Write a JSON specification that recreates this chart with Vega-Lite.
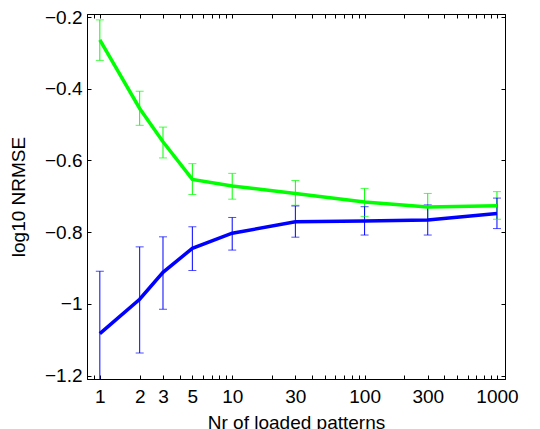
{
  "$schema": "https://vega.github.io/schema/vega-lite/v6.json",
  "autosize": "none",
  "width": 418,
  "height": 365,
  "padding": {"left": 87, "top": 14, "right": 35, "bottom": 50},
  "background": "white",
  "config": {
    "font": "Liberation Sans",
    "view": {"stroke": "black", "strokeWidth": 1},
    "axis": {
      "labelFont": "Liberation Sans",
      "titleFont": "Liberation Sans",
      "labelFontSize": 19,
      "titleFontSize": 19,
      "titleFontWeight": "normal",
      "labelColor": "black",
      "titleColor": "black",
      "domainColor": "black",
      "tickColor": "black",
      "grid": false,
      "tickSize": -4,
      "labelFlush": false,
      "labelOverlap": false
    }
  },
  "data": {
    "values": [
      {"series": "green", "x": 1, "y": -0.264, "lo": -0.321, "hi": -0.208},
      {"series": "green", "x": 2, "y": -0.455, "lo": -0.502, "hi": -0.407},
      {"series": "green", "x": 3, "y": -0.548, "lo": -0.593, "hi": -0.507},
      {"series": "green", "x": 5, "y": -0.653, "lo": -0.695, "hi": -0.609},
      {"series": "green", "x": 10, "y": -0.671, "lo": -0.708, "hi": -0.636},
      {"series": "green", "x": 30, "y": -0.692, "lo": -0.725, "hi": -0.656},
      {"series": "green", "x": 100, "y": -0.716, "lo": -0.756, "hi": -0.678},
      {"series": "green", "x": 300, "y": -0.730, "lo": -0.768, "hi": -0.692},
      {"series": "green", "x": 1000, "y": -0.726, "lo": -0.764, "hi": -0.687},
      {"series": "blue", "x": 1, "y": -1.083, "lo": -1.257, "hi": -0.909},
      {"series": "blue", "x": 2, "y": -0.987, "lo": -1.137, "hi": -0.841},
      {"series": "blue", "x": 3, "y": -0.912, "lo": -1.015, "hi": -0.813},
      {"series": "blue", "x": 5, "y": -0.845, "lo": -0.907, "hi": -0.785},
      {"series": "blue", "x": 10, "y": -0.803, "lo": -0.850, "hi": -0.759},
      {"series": "blue", "x": 30, "y": -0.771, "lo": -0.814, "hi": -0.727},
      {"series": "blue", "x": 100, "y": -0.769, "lo": -0.808, "hi": -0.729},
      {"series": "blue", "x": 300, "y": -0.766, "lo": -0.808, "hi": -0.724},
      {"series": "blue", "x": 1000, "y": -0.748, "lo": -0.790, "hi": -0.705}
    ]
  },
  "resolve": {"axis": {"x": "independent", "y": "independent"}},
  "layer": [
    {
      "mark": {"type": "rule", "strokeWidth": 1, "clip": true},
      "encoding": {
        "x": {
          "field": "x", "type": "quantitative",
          "scale": {"type": "log", "domain": [0.8, 1150], "nice": false},
          "axis": {
            "orient": "bottom",
            "title": "Nr of loaded patterns",
            "values": [0.9, 1, 2, 3, 4, 5, 6, 7, 8, 9, 10, 20, 30, 40, 50, 60, 70, 80, 90, 100, 200, 300, 400, 500, 600, 700, 800, 900, 1000],
            "labelExpr": "indexof([1,2,3,5,10,30,100,300,1000], datum.value) >= 0 ? format(datum.value, '~g') : ''",
            "labelPadding": 12,
            "titlePadding": 7
          }
        },
        "y": {
          "field": "lo", "type": "quantitative",
          "scale": {"domain": [-1.2095, -0.1916], "nice": false, "zero": false},
          "axis": {
            "orient": "left",
            "title": "log10 NRMSE",
            "values": [-1.2, -1, -0.8, -0.6, -0.4, -0.2],
            "format": "~g",
            "labelPadding": 9,
            "titlePadding": 16
          }
        },
        "y2": {"field": "hi"},
        "color": {
          "field": "series", "type": "nominal",
          "scale": {"domain": ["blue", "green"], "range": ["#0000ff", "#00ff00"]},
          "legend": null
        }
      }
    },
    {
      "mark": {"type": "tick", "orient": "horizontal", "size": 8, "thickness": 1, "clip": true},
      "encoding": {
        "x": {
          "field": "x", "type": "quantitative",
          "axis": {
            "orient": "top", "title": null, "labels": false,
            "values": [0.9, 1, 2, 3, 4, 5, 6, 7, 8, 9, 10, 20, 30, 40, 50, 60, 70, 80, 90, 100, 200, 300, 400, 500, 600, 700, 800, 900, 1000]
          }
        },
        "y": {
          "field": "lo", "type": "quantitative",
          "axis": {
            "orient": "right", "title": null, "labels": false,
            "values": [-1.2, -1, -0.8, -0.6, -0.4, -0.2]
          }
        },
        "color": {"field": "series", "type": "nominal", "legend": null}
      }
    },
    {
      "mark": {"type": "tick", "orient": "horizontal", "size": 8, "thickness": 1, "clip": true},
      "encoding": {
        "x": {"field": "x", "type": "quantitative", "axis": null},
        "y": {"field": "hi", "type": "quantitative", "axis": null},
        "color": {"field": "series", "type": "nominal", "legend": null}
      }
    },
    {
      "mark": {"type": "line", "strokeWidth": 3.5, "clip": true},
      "encoding": {
        "x": {"field": "x", "type": "quantitative", "axis": null},
        "y": {"field": "y", "type": "quantitative", "axis": null},
        "color": {"field": "series", "type": "nominal", "legend": null}
      }
    }
  ]
}
